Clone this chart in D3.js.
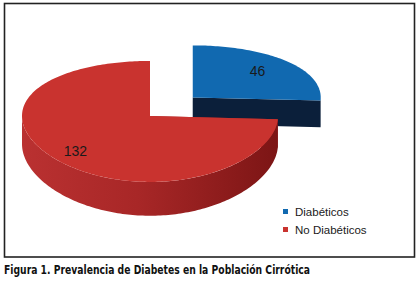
<!DOCTYPE html>
<html>
<head>
<meta charset="utf-8">
<script src="https://cdn.jsdelivr.net/npm/d3@7"></script>
<style>
body{margin:0;background:#fff;}
</style>
</head>
<body>
<div id="chart"></div>
<script>
var categories=["Diabéticos","No Diabéticos"];
var values=[46,132];
var topColors=["#1169B0","#C9332F"];
var sideColors=["#0B1F3A","#A52626"];
var caption="Figura 1. Prevalencia de Diabetes en la Población Cirrótica";

var W=419,H=284;
// pie geometry (screen px) and a little fake perspective
var cx=150,cy=116,rx=128,ry=60,depth=28,K=0.09,EXPLODE=0.46;

var svg=d3.select("#chart")
	.append("svg")
	.attr("width",W)
	.attr("height",H);

var defs=svg.append("defs");
var grad=defs.append("linearGradient")
	.attr("id","redSide")
	.attr("x1","0").attr("x2","1").attr("y1","0").attr("y2","0");
grad.append("stop").attr("offset","0%").attr("stop-color","#BA3131");
grad.append("stop").attr("offset","45%").attr("stop-color","#A82727");
grad.append("stop").attr("offset","100%").attr("stop-color","#7C1515");

svg.append("rect")
	.attr("x",4.5)
	.attr("y",3.5)
	.attr("width",410)
	.attr("height",253.5)
	.attr("fill","#fff")
	.attr("stroke","#222")
	.attr("stroke-width",1.6);

function proj(X,Y,Z){
	var s=1/(1+K*Y);
	return [cx+rx*X,cy-ry*Y*s+Z*s*s];
}

// position on the ground plane, angle clockwise from 12 o'clock
function ground(d,a,r){
	var m=(d.startAngle+d.endAngle)/2;
	var e=d.index===0?EXPLODE:0;
	return [e*Math.sin(m)+r*Math.sin(a),e*Math.cos(m)+r*Math.cos(a)];
}

function arcPoints(d,a0,a1,Z){
	var n=Math.max(2,Math.ceil((a1-a0)/0.02));
	return d3.range(n+1).map(function(i){
		var g=ground(d,a0+(a1-a0)*i/n,1);
		return proj(g[0],g[1],Z);
	});
}

var polyLine=d3.line().curve(d3.curveLinearClosed);

var pie=d3.pie().sort(null).value(function(d){return d;});
var arcs=pie(values);
var total=d3.sum(values);

// draw far slices first
var order=arcs.slice().sort(function(a,b){
	return ground(b,0,0)[1]-ground(a,0,0)[1];
});

var slices=svg.append("g").attr("class","pie");

order.forEach(function(d){
	var g=slices.append("g").attr("class","slice");
	var v=ground(d,0,0);
	var sideFill=d.index===1?"url(#redSide)":sideColors[d.index];

	[d.startAngle,d.endAngle].forEach(function(a){
		var e=ground(d,a,1);
		g.append("path")
			.attr("d",polyLine([proj(v[0],v[1],0),proj(e[0],e[1],0),proj(e[0],e[1],depth),proj(v[0],v[1],depth)]))
			.attr("fill",sideColors[d.index]);
	});

	var a0=Math.max(d.startAngle,Math.PI/2),a1=Math.min(d.endAngle,Math.PI*1.5);
	if(a1>a0){
		var pts=arcPoints(d,a0,a1,0).concat(arcPoints(d,a0,a1,depth).reverse());
		g.append("path")
			.attr("d",polyLine(pts))
			.attr("fill",sideFill);
	}

	var topPts=[proj(v[0],v[1],0)].concat(arcPoints(d,d.startAngle,d.endAngle,0));
	g.append("path")
		.attr("d",polyLine(topPts))
		.attr("fill",topColors[d.index]);
});

arcs.forEach(function(d){
	var m=(d.startAngle+d.endAngle)/2;
	var p=ground(d,m,0.64+0.22*d.data/total);
	var s=proj(p[0],p[1],0);
	svg.append("text")
		.text(d.data)
		.attr("x",s[0])
		.attr("y",s[1])
		.attr("text-anchor","middle")
		.attr("dominant-baseline","central")
		.attr("font-family","Liberation Sans, Arial, sans-serif")
		.attr("font-size",14)
		.attr("fill","#1a1a1a");
});

var legend=svg.append("g")
	.attr("class","legend")
	.selectAll("g")
	.data(categories)
	.enter()
	.append("g")
	.attr("transform",function(d,i){return "translate(283,"+(211.5+i*18)+")";});
legend.append("rect")
	.attr("x",0)
	.attr("y",-2.5)
	.attr("width",5)
	.attr("height",5)
	.attr("fill",function(d,i){return topColors[i];});
legend.append("text")
	.text(function(d){return d;})
	.attr("x",12)
	.attr("y",0)
	.attr("dominant-baseline","central")
	.attr("font-family","Liberation Sans, Arial, sans-serif")
	.attr("font-size",11.5)
	.attr("fill","#1a1a1a");

svg.append("text")
	.text(caption)
	.attr("x",4)
	.attr("y",274)
	.attr("font-family","Liberation Sans Narrow, Arial Narrow, DejaVu Sans Condensed, sans-serif")
	.attr("font-weight","bold")
	.attr("font-size",13)
	.attr("textLength",306)
	.attr("lengthAdjust","spacingAndGlyphs")
	.attr("fill","#111");
</script>
</body>
</html>
